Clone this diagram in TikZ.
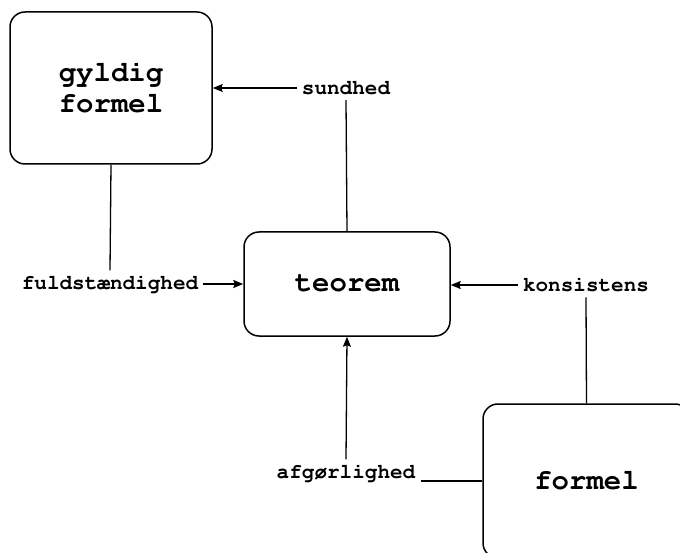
\documentclass[tikz,border=0pt]{standalone}
\usepackage[T1]{fontenc}
\usepackage{courier}
\usetikzlibrary{arrows.meta}
\newcommand{\courbf}{\fontfamily{pcr}\bfseries}
\begin{document}
\begin{tikzpicture}[x=1pt,y=-1pt,
  conbox/.style={draw,line width=1.5pt,rounded corners=15pt,align=center,
    font=\courbf\fontsize{29}{31}\selectfont,inner sep=0pt},
  lbl/.style={font=\courbf\fontsize{21}{24}\selectfont,inner sep=5pt},
  con/.style={line width=1.3pt},
  arr/.style={con,-{Stealth[length=10pt,width=8pt,inset=1.5pt]}}]
\useasboundingbox (0,0) rectangle (680,553);
\begin{scope}
\clip (0,0) rectangle (680,553);
% boxes
\node[conbox,minimum width=202pt,minimum height=152pt] (gf) at (111,88) {gyldig\\formel};
\node[conbox,minimum width=206pt,minimum height=104pt] (th) at (347,284) {teorem};
\node[conbox,minimum width=207pt,minimum height=154pt] (fm) at (586.5,481) {formel};
% labels
\node[lbl] (sund) at (346,88) {sundhed};
\node[lbl] (fuld) at (110,284) {fuldst\ae ndighed};
\node[lbl] (kons) at (586,285) {konsistens};
\node[lbl] (afg) at (346,473) {afg\o rlighed};
% connectors
\draw[arr] (sund.west) -- (gf.east |- sund.west);
\draw[con] (sund.south) -- (th.north);
\draw[con] (gf.south) -- (fuld.north);
\draw[arr] (fuld.east) -- (th.west |- fuld.east);
\draw[arr] (kons.west) -- (th.east |- kons.west);
\draw[con] (kons.south) -- (fm.north);
\draw[arr] (afg.north) -- (th.south);
\draw[con] (afg.east |- fm.west) -- (fm.west);
\end{scope}
\end{tikzpicture}
\end{document}
